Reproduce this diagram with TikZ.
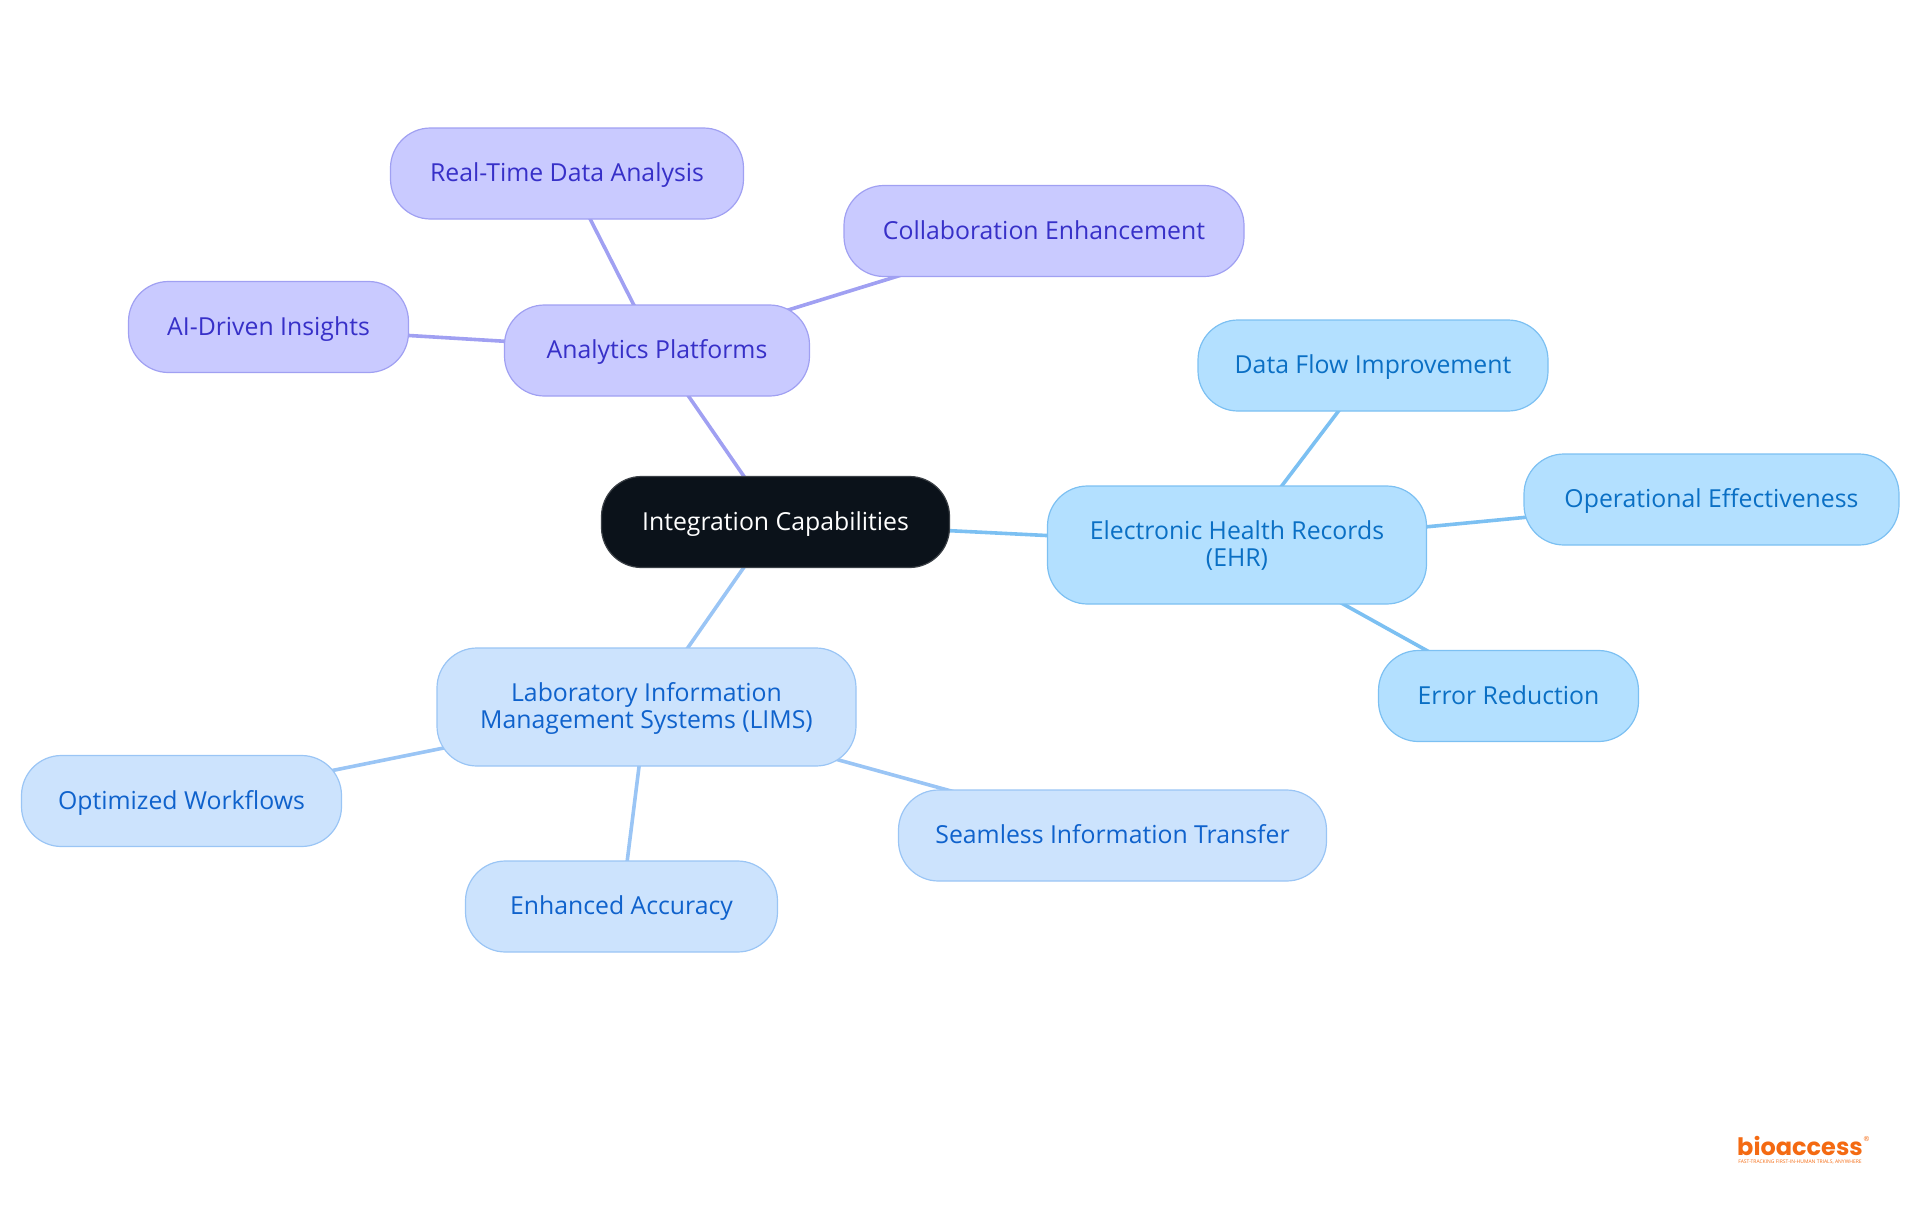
\documentclass[tikz,border=0pt]{standalone}
\usepackage{fontspec}
\setmainfont{Open Sans}
\newfontfamily\logofont{Poppins}
\usetikzlibrary{backgrounds}
\definecolor{hubfill}{HTML}{0B121A}
\definecolor{hubline}{HTML}{3A3F45}
\definecolor{purfill}{HTML}{C9CAFF}
\definecolor{purline}{HTML}{A0A0F2}
\definecolor{purtext}{HTML}{3730C8}
\definecolor{skyfill}{HTML}{B3E0FF}
\definecolor{skyline}{HTML}{7CC0F2}
\definecolor{skytext}{HTML}{0A6FC4}
\definecolor{labfill}{HTML}{CCE3FD}
\definecolor{labline}{HTML}{9AC5F5}
\definecolor{labtext}{HTML}{0F62CC}
\definecolor{logo}{HTML}{F46A12}

\begin{document}
\begin{tikzpicture}[x = 1pt, y = -1pt]
\tikzstyle{BoxStyle}=[
shape = rectangle,
rounded corners = 40pt,
minimum height = 91pt,
inner sep = 0pt,
align = center,
line width = 1.2pt,
text height = 18pt,
text depth = 2pt,
font = \fontsize{24.8}{27}\selectfont,
draw]
\tikzstyle{HubStyle}=[BoxStyle, fill = hubfill, draw = hubline, text = white]
\tikzstyle{PurStyle}=[BoxStyle, fill = purfill, draw = purline, text = purtext]
\tikzstyle{SkyStyle}=[BoxStyle, fill = skyfill, draw = skyline, text = skytext]
\tikzstyle{LabStyle}=[BoxStyle, fill = labfill, draw = labline, text = labtext]
\tikzstyle{TallStyle}=[minimum height = 118pt, text height = 44pt]
\tikzstyle{PurEdge}=[draw = purline, line width = 3.6pt]
\tikzstyle{SkyEdge}=[draw = skyline, line width = 3.6pt]
\tikzstyle{LabEdge}=[draw = labline, line width = 3.6pt]
\tikzstyle{LogoStyle}=[inner sep = 0pt, text = logo]
\useasboundingbox (0, 0) rectangle (1920, 1215);
\node[HubStyle, minimum width = 348pt] (hub) at (775.5, 522) {Integration Capabilities};
\node[PurStyle, minimum width = 305pt] (a0) at (657, 350.5) {Analytics Platforms};
\node[PurStyle, minimum width = 353pt] (a1) at (567, 173.5) {Real-Time Data Analysis};
\node[PurStyle, minimum width = 400pt] (a2) at (1044, 231) {Collaboration Enhancement};
\node[PurStyle, minimum width = 280pt] (a3) at (268.5, 327) {AI-Driven Insights};
\node[SkyStyle, TallStyle, minimum width = 379pt] (e0) at (1237, 545) {Electronic Health Records\\(EHR)};
\node[SkyStyle, minimum width = 350pt] (e1) at (1373, 365.5) {Data Flow Improvement};
\node[SkyStyle, minimum width = 375pt] (e2) at (1711.5, 499.5) {Operational Effectiveness};
\node[SkyStyle, minimum width = 260pt] (e3) at (1508.5, 696) {Error Reduction};
\node[LabStyle, TallStyle, minimum width = 419pt] (l0) at (646.5, 707) {Laboratory Information\\Management Systems (LIMS)};
\node[LabStyle, minimum width = 320pt] (l1) at (181.5, 801) {Optimized Workflows};
\node[LabStyle, minimum width = 312pt] (l2) at (621.5, 906.5) {Enhanced Accuracy};
\node[LabStyle, minimum width = 428pt] (l3) at (1112.5, 835.5) {Seamless Information Transfer};
\node[LogoStyle, font = \logofont\bfseries\fontsize{24}{24}\selectfont, anchor = base] (brand) at (1800, 1155) {bioaccess};
\node[LogoStyle, font = \fontsize{5}{5}\selectfont] (motto) at (1800, 1162) {FAST-TRACKING FIRST-IN-HUMAN TRIALS, ANYWHERE};
\node[LogoStyle, font = \fontsize{7}{7}\selectfont] (mark) at (1866.5, 1138.5) {\textregistered};
\begin{scope}[on background layer]
\draw[PurEdge] (hub.center) -- (a0.center);
\draw[PurEdge] (a0.center) -- (a1.center);
\draw[PurEdge] (a0.center) -- (a2.center);
\draw[PurEdge] (a0.center) -- (a3.center);
\draw[SkyEdge] (hub.center) -- (e0.center);
\draw[SkyEdge] (e0.center) -- (e1.center);
\draw[SkyEdge] (e0.center) -- (e2.center);
\draw[SkyEdge] (e0.center) -- (e3.center);
\draw[LabEdge] (hub.center) -- (l0.center);
\draw[LabEdge] (l0.center) -- (l1.center);
\draw[LabEdge] (l0.center) -- (l2.center);
\draw[LabEdge] (l0.center) -- (l3.center);
\end{scope}
\end{tikzpicture}
\end{document}
